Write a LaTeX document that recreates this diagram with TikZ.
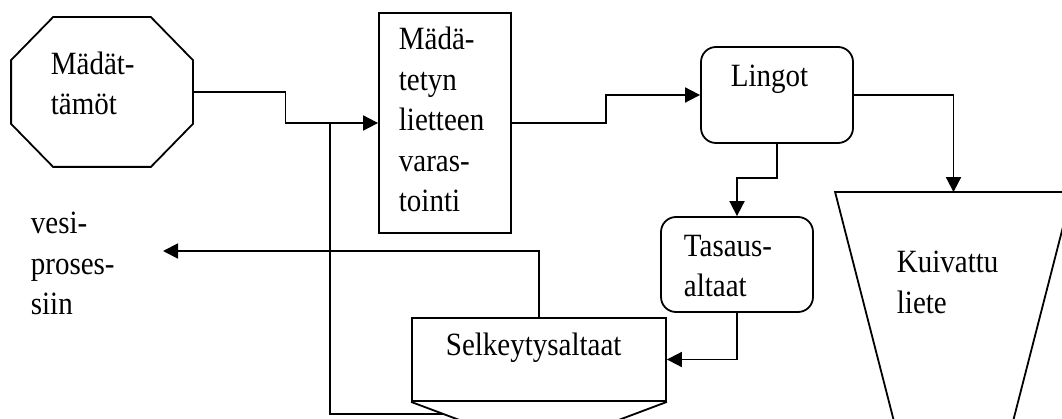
\documentclass[tikz,border=0pt]{standalone}
\usepackage{fontspec}
\setmainfont{Liberation Serif}
\usetikzlibrary{arrows.meta,calc}

\begin{document}
\begin{tikzpicture}[x=1pt,y=-1pt,
  line width=1.8pt,
  flow/.style={-{Triangle[length=15pt,width=15pt]}},
  box/.style={draw, rectangle, inner sep=0pt},
  frame/.style={rectangle, inner sep=0pt},
  rbox/.style={box, rounded corners=15pt},
  txt/.style={anchor=base west, inner sep=0pt, align=left,
              font=\fontsize{29}{36.2}\selectfont, yscale=1.12, transform shape}]
\useasboundingbox (0,0) rectangle (1062,419);
\clip (0,0) rectangle (1062,419);

% digesters: octagon around an invisible frame node
\node[frame, minimum width=180pt, minimum height=148pt] (oct) at (102,92) {};
\draw ($(oct.north west)+(42,0)$) -- ($(oct.north east)+(-42,0)$)
   -- ($(oct.north east)+(0,43)$) -- ($(oct.south east)+(0,-43)$)
   -- ($(oct.south east)+(-42,0)$) -- ($(oct.south west)+(42,0)$)
   -- ($(oct.south west)+(0,-43)$) -- ($(oct.north west)+(0,43)$) -- cycle;

\node[box, minimum width=132pt, minimum height=220pt] (stor) at (445,123) {};
\node[rbox, minimum width=152pt, minimum height=96pt] (ling) at (777,95) {};
\node[rbox, minimum width=152pt, minimum height=95pt] (tas) at (737,264.5) {};
\node[box, minimum width=254pt, minimum height=83pt] (selk) at (539,359.5) {};

% dried sludge container: funnel around an invisible frame node
\node[frame, minimum width=235pt, minimum height=226pt] (kuiv) at (953.5,306) {};
\draw (kuiv.north west) -- (kuiv.north east)
   -- ($(kuiv.south east)+(-58.5,0)$) -- ($(kuiv.south west)+(58.5,0)$) -- cycle;

% hopper below the clarifier
\draw (selk.south west) -- ++(104,39);
\draw (selk.south east) -- ++(-104,39);

% labels (anchored at the baseline of the last line)
\node[txt] (toct) at (50,115) {Mädät-\\tämöt};
\node[txt] (tstor) at (398,212) {Mädä-\\tetyn\\lietteen\\varas-\\tointi};
\node[txt] (tling) at (730,87) {Lingot};
\node[txt] (ttas) at (683,297) {Tasaus-\\altaat};
\node[txt] (tselk) at (445,355) {Selkeytysaltaat};
\node[txt] (tkuiv) at (896,313) {Kuivattu\\liete};
\node[txt] (tvesi) at (30,315) {vesi-\\proses-\\siin};

% connectors
\coordinate (join) at ($(stor.west)+(-48,0)$);
\coordinate (selkfoot) at ($(selk.south west)+(32,12)$);
\coordinate (vesiend) at (163,251);

\draw[flow] (oct.east) -| ($(oct.east)!0.5!(stor.west)$) |- (stor.west);
\draw (selkfoot) -| (join);
\draw[flow] (stor.east) -| ($(stor.east)!0.5!(ling.west)$) |- (ling.west);
\draw[flow] (ling.east) -| (kuiv.north);
\draw[flow] (ling.south) -- ++(0,34) -| (tas.north);
\draw[flow] (tas.south) |- (selk.east);
\draw[flow] (selk.north) |- (vesiend);
\end{tikzpicture}
\end{document}
